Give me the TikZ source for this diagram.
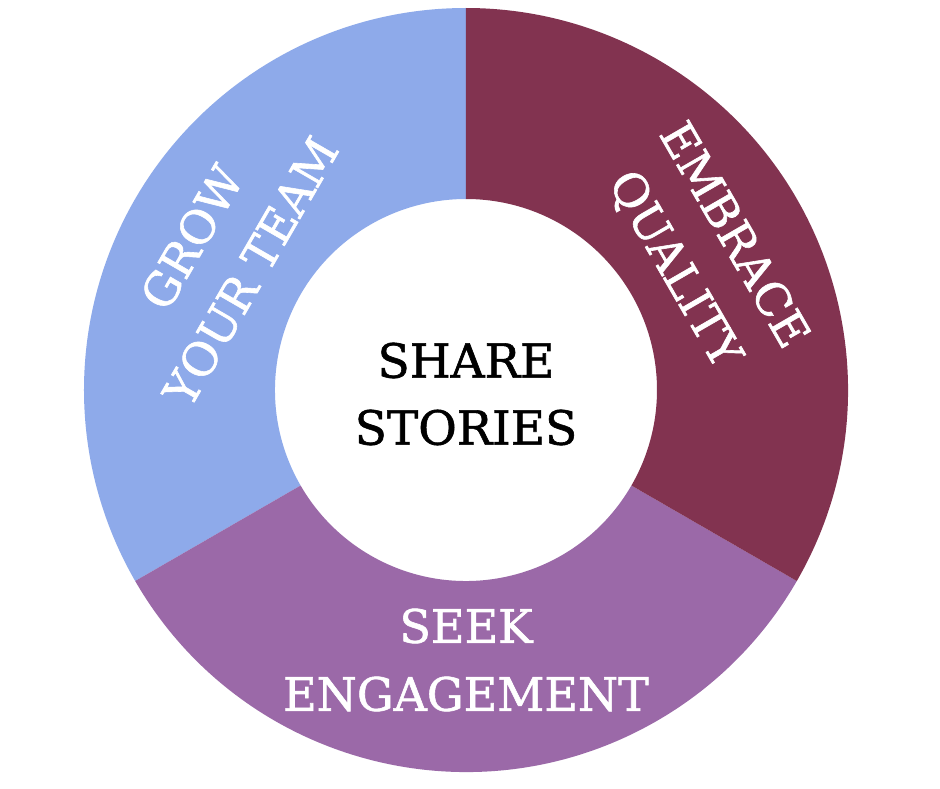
\documentclass[tikz,border=0pt]{standalone}
\usepackage{fontspec}
\setmainfont{DejaVu Serif}
\newfontfamily\labelfont{DejaVu Serif}[FakeBold=1.3]
\definecolor{segblue}{HTML}{8EAAEA}
\definecolor{segmaroon}{HTML}{823350}
\definecolor{segpurple}{HTML}{9B69A8}
\begin{document}
\begin{tikzpicture}[x=1pt,y=1pt,
  seglabel/.style={text=white,align=center,inner sep=0pt,font=\labelfont\fontsize{46}{68}\selectfont},
  centerlabel/.style={text=black,align=center,inner sep=0pt,font=\labelfont\fontsize{47}{67}\selectfont}]
\useasboundingbox[fill=white] (-466,-398) rectangle (474,390);
\def\Ro{382}\def\Ri{191}
\fill[segblue] (90:\Ro) arc[start angle=90,end angle=210,radius=\Ro] -- (210:\Ri) arc[start angle=210,end angle=90,radius=\Ri] -- cycle;
\fill[segpurple] (210:\Ro) arc[start angle=210,end angle=330,radius=\Ro] -- (330:\Ri) arc[start angle=330,end angle=210,radius=\Ri] -- cycle;
\fill[segmaroon] (-30:\Ro) arc[start angle=-30,end angle=90,radius=\Ro] -- (90:\Ri) arc[start angle=90,end angle=-30,radius=\Ri] -- cycle;
\node[centerlabel] (center) at (0,-4) {SHARE\\STORIES};
\node[seglabel,rotate=60] (grow) at (151:280) {GROW\\YOUR TEAM};
\node[seglabel,rotate=-60] (embrace) at (30:274) {EMBRACE\\QUALITY};
\node[seglabel] (seek) at (270:270) {SEEK\\ENGAGEMENT};
\end{tikzpicture}
\end{document}
